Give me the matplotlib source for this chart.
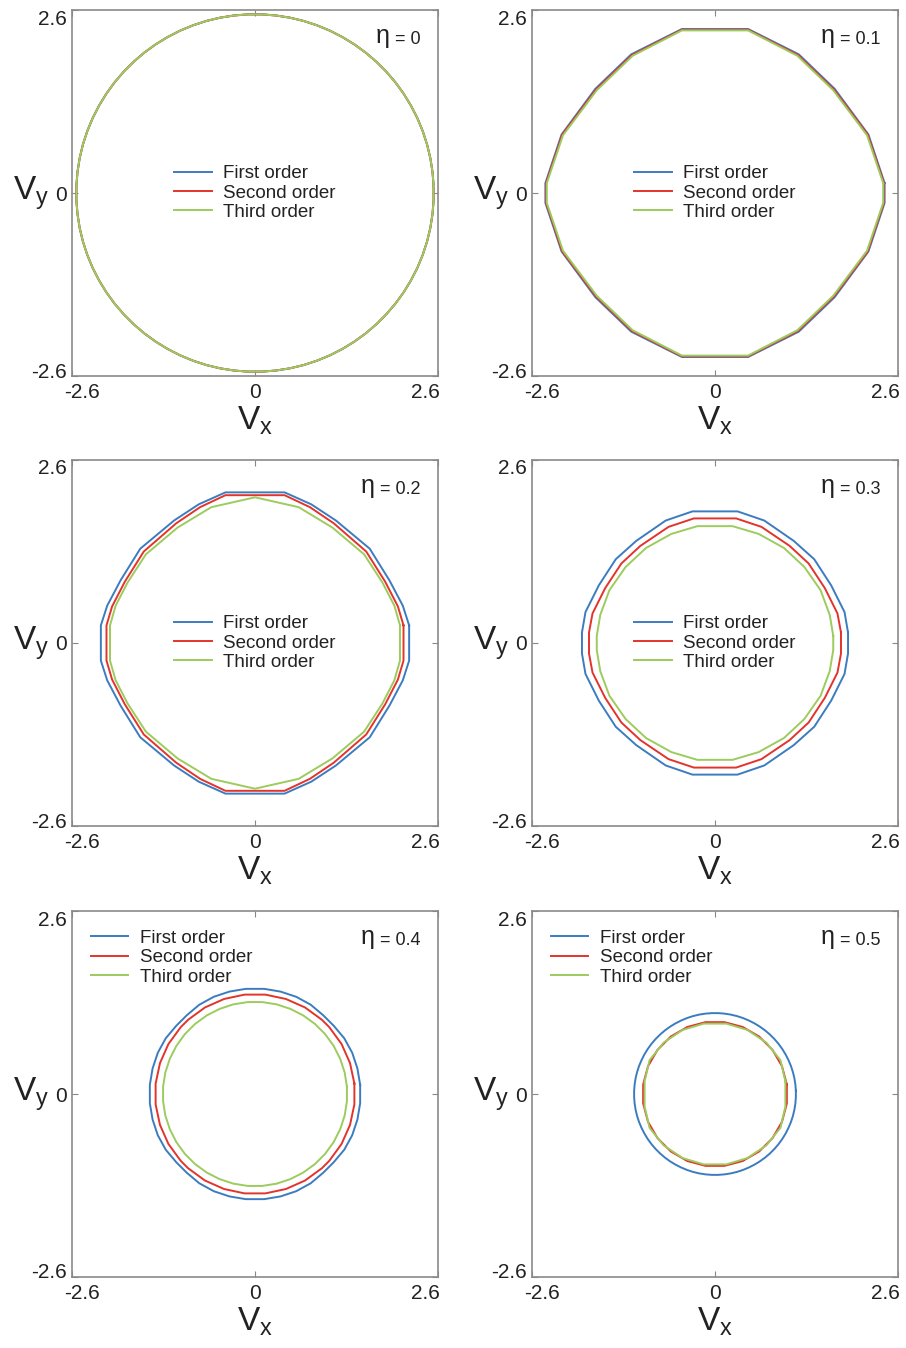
import numpy as np
import matplotlib
matplotlib.use('Agg')
import matplotlib.pyplot as plt
from matplotlib.transforms import ScaledTranslation

plt.rcParams['font.family'] = ['Liberation Sans', 'DejaVu Sans']
plt.rcParams['mathtext.fontset'] = 'custom'
plt.rcParams['mathtext.rm'] = 'Liberation Sans'
plt.rcParams['mathtext.it'] = 'Liberation Sans'

ETA_VALUES = ['0', '0.1', '0.2', '0.3', '0.4', '0.5']
ORDER_NAMES = ['First order', 'Second order', 'Third order']
ORDER_COLORS = ['#3b7cc0', '#e2342c', '#9ccb5e']
TICKS = [-2.6, 0, 2.6]
TICK_LABELS = ['-2.6', '0', '2.6']

# boundary vertices in the first quadrant (Vx, Vy), ordered by angle;
# the rest of each curve follows from the symmetry in Vx and Vy
eta0_first = [(2.538, 0.100), (2.522, 0.299), (2.491, 0.496), (2.445, 0.689),
              (2.383, 0.879), (2.307, 1.063), (2.216, 1.241), (2.112, 1.411),
              (1.995, 1.572), (1.865, 1.724), (1.724, 1.865), (1.572, 1.995),
              (1.411, 2.112), (1.241, 2.216), (1.063, 2.307), (0.879, 2.383),
              (0.689, 2.445), (0.496, 2.491), (0.299, 2.522), (0.100, 2.538)]
eta0_second = [(2.538, 0.100), (2.522, 0.299), (2.491, 0.496), (2.445, 0.689),
               (2.383, 0.879), (2.307, 1.063), (2.216, 1.241), (2.112, 1.411),
               (1.995, 1.572), (1.865, 1.724), (1.724, 1.865), (1.572, 1.995),
               (1.411, 2.112), (1.241, 2.216), (1.063, 2.307), (0.879, 2.383),
               (0.689, 2.445), (0.496, 2.491), (0.299, 2.522), (0.100, 2.538)]
eta0_third = [(2.538, 0.100), (2.522, 0.299), (2.491, 0.496), (2.445, 0.689),
              (2.383, 0.879), (2.307, 1.063), (2.216, 1.241), (2.112, 1.411),
              (1.995, 1.572), (1.865, 1.724), (1.724, 1.865), (1.572, 1.995),
              (1.411, 2.112), (1.241, 2.216), (1.063, 2.307), (0.879, 2.383),
              (0.689, 2.445), (0.496, 2.491), (0.299, 2.522), (0.100, 2.538)]

eta1_first = [(2.41, 0.14), (2.18, 0.83), (1.70, 1.48), (1.19, 1.97), (0.47, 2.33)]
eta1_second = [(2.40, 0.14), (2.17, 0.83), (1.69, 1.47), (1.18, 1.96), (0.47, 2.32)]
eta1_third = [(2.39, 0.14), (2.16, 0.82), (1.68, 1.46), (1.17, 1.95), (0.47, 2.31)]

eta2_first = [(2.19, 0.25), (2.10, 0.53), (1.91, 0.89), (1.63, 1.34),
              (1.15, 1.74), (0.80, 1.97), (0.42, 2.14)]
eta2_second = [(2.11, 0.25), (2.03, 0.52), (1.85, 0.87), (1.58, 1.30),
               (1.12, 1.70), (0.78, 1.93), (0.42, 2.10)]
eta2_third = [(2.06, 0.25), (1.98, 0.53), (1.81, 0.86), (1.55, 1.26),
              (1.10, 1.64), (0.62, 1.93), (0.0, 2.07)]

eta3_first = [(1.89, 0.15), (1.84, 0.44), (1.65, 0.82), (1.41, 1.19),
              (1.12, 1.45), (0.70, 1.74), (0.32, 1.87)]
eta3_second = [(1.79, 0.15), (1.74, 0.42), (1.56, 0.78), (1.33, 1.13),
               (1.06, 1.38), (0.66, 1.65), (0.30, 1.77)]
eta3_third = [(1.68, 0.10), (1.63, 0.40), (1.50, 0.75), (1.27, 1.08),
              (0.98, 1.35), (0.62, 1.55), (0.25, 1.66)]

eta4_first = [(1.494, 0.131), (1.455, 0.363), (1.381, 0.586), (1.268, 0.792),
              (1.117, 0.971), (0.971, 1.117), (0.792, 1.268), (0.586, 1.381),
              (0.363, 1.455), (0.131, 1.494)]
eta4_second = [(1.412, 0.148), (1.350, 0.439), (1.230, 0.710), (1.055, 0.950),
               (0.950, 1.055), (0.710, 1.230), (0.439, 1.350), (0.148, 1.412)]
eta4_third = [(1.306, 0.103), (1.274, 0.306), (1.210, 0.501), (1.117, 0.684),
              (0.996, 0.851), (0.851, 0.996), (0.684, 1.117), (0.501, 1.210),
              (0.306, 1.274), (0.103, 1.306)]

eta5_first = [(1.149, 0.045), (1.142, 0.135), (1.128, 0.224), (1.107, 0.312),
              (1.079, 0.398), (1.044, 0.481), (1.003, 0.562), (0.956, 0.639),
              (0.903, 0.712), (0.844, 0.781), (0.781, 0.844), (0.712, 0.903),
              (0.639, 0.956), (0.562, 1.003), (0.481, 1.044), (0.398, 1.079),
              (0.312, 1.107), (0.224, 1.128), (0.135, 1.142), (0.045, 1.149)]
eta5_second = [(1.021, 0.134), (0.952, 0.394), (0.817, 0.627),
               (0.627, 0.817), (0.394, 0.952), (0.134, 1.021)]
eta5_third = [(1.00, 0.18), (0.93, 0.48), (0.73, 0.73), (0.46, 0.91), (0.16, 1.00)]

panels = [
    (eta0_first, eta0_second, eta0_third),
    (eta1_first, eta1_second, eta1_third),
    (eta2_first, eta2_second, eta2_third),
    (eta3_first, eta3_second, eta3_third),
    (eta4_first, eta4_second, eta4_third),
    (eta5_first, eta5_second, eta5_third),
]
legend_loc = ['center', 'center', 'center', 'center', 'upper left', 'upper left']


def closed_curve(quadrant):
    q = np.asarray(quadrant, dtype=float)
    x, y = q[:, 0], q[:, 1]
    xs = np.concatenate([x, -x[::-1], -x, x[::-1], x[:1]])
    ys = np.concatenate([y, y[::-1], -y, -y[::-1], y[:1]])
    return xs, ys


W, H = 906, 1348
fig = plt.figure(figsize=(W / 100, H / 100), dpi=100)
fig.patch.set_facecolor('white')

col_left = [72, 532]
row_top = [10, 460, 911]
box = 366

for i, curves in enumerate(panels):
    row, col = divmod(i, 2)
    ax = fig.add_axes([col_left[col] / W, 1 - (row_top[row] + box) / H, box / W, box / H])

    for quad, name, color in zip(curves, ORDER_NAMES, ORDER_COLORS):
        xs, ys = closed_curve(quad)
        ax.plot(xs, ys, color=color, lw=1.4, label=name, solid_joinstyle='miter')

    ax.set_xlim(-2.6, 2.6)
    ax.set_ylim(-2.6, 2.6)
    ax.set_xticks(TICKS)
    ax.set_xticklabels(TICK_LABELS)
    ax.set_yticks(TICKS)
    ax.set_yticklabels(TICK_LABELS)
    ax.tick_params(direction='in', top=True, right=True, length=4, width=0.8,
                   color='#888888', labelsize=15, labelcolor='#222222')
    ax.tick_params(axis='x', pad=5)
    ax.tick_params(axis='y', pad=4)
    for s in ax.spines.values():
        s.set_color('#8a8a8a')
        s.set_linewidth(1.2)

    # pull the end labels in from the corners
    for lbl, dx in zip(ax.get_xticklabels(), [10, 0, -13]):
        lbl.set_transform(lbl.get_transform() + ScaledTranslation(dx / 100, 0, fig.dpi_scale_trans))
    for lbl, dy in zip(ax.get_yticklabels(), [6, 0, -7]):
        lbl.set_transform(lbl.get_transform() + ScaledTranslation(0, dy / 100, fig.dpi_scale_trans))

    ax.set_xlabel(r'$\mathregular{V_x}$', fontsize=24, color='#222222')
    ax.xaxis.set_label_coords(0.5, -0.078)
    ax.set_ylabel(r'$\mathregular{V_y}$', fontsize=24, color='#222222',
                  rotation=0, ha='right', va='center')
    ax.yaxis.set_label_coords(-0.063, 0.5)

    eq = ax.text(1 - 17 / box, 1 - 34 / box, '= ' + ETA_VALUES[i], transform=ax.transAxes,
                 ha='right', va='baseline', fontsize=13, color='#222222')
    ax.annotate('\u03b7', xy=(0, 0), xycoords=eq, xytext=(-4, 0), textcoords='offset points',
                ha='right', va='bottom', fontsize=18, color='#222222')

    leg = ax.legend(loc=legend_loc[i], frameon=False, fontsize=13.5, handlelength=2.0,
                    handletextpad=0.6, labelspacing=0.12, borderaxespad=0.6)
    for t in leg.get_texts():
        t.set_color('#222222')

fig.savefig('out.png', dpi=100)
